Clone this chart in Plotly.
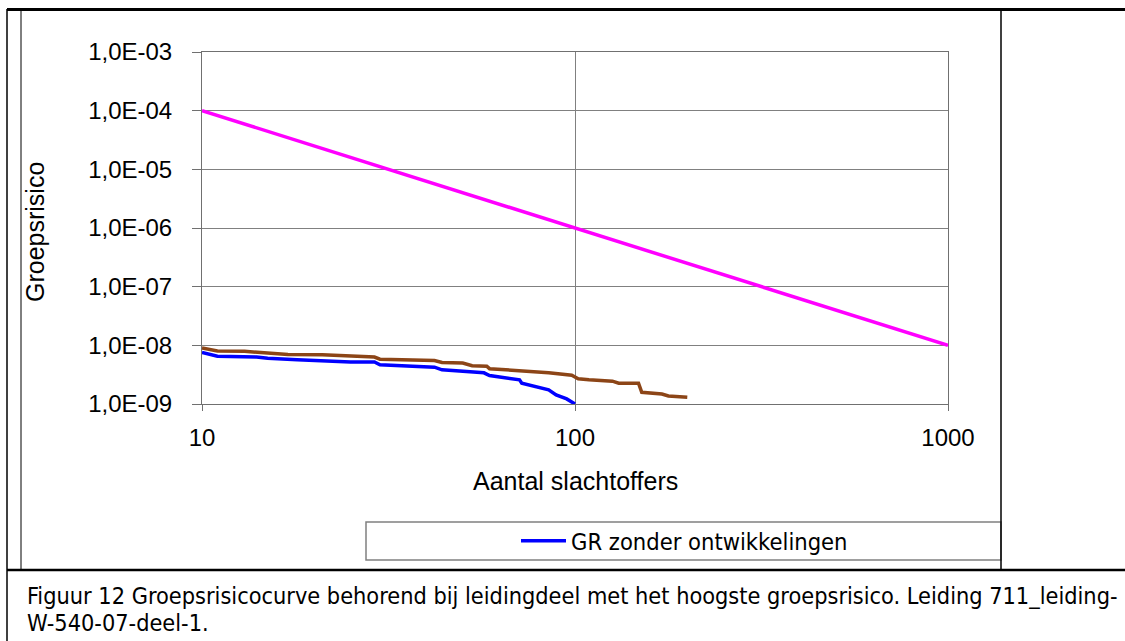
import plotly.graph_objects as go

W, H = 1125, 641

# ---- data ----
norm_n = [10, 1000]
norm_gr = [1e-4, 1e-8]

brown_n = [10, 11, 13, 15, 17, 21, 25, 29, 30, 42, 44, 50, 53, 58, 59, 67, 73, 85, 98,
           102, 109, 126, 131, 148, 151, 171, 178, 200]
brown_gr = [9.0e-9, 8.0e-9, 7.9e-9, 7.4e-9, 7.0e-9, 6.9e-9, 6.65e-9, 6.3e-9, 5.8e-9,
            5.5e-9, 5.1e-9, 5.0e-9, 4.5e-9, 4.4e-9, 4.0e-9, 3.8e-9, 3.7e-9, 3.4e-9, 3.1e-9,
            2.7e-9, 2.6e-9, 2.45e-9, 2.26e-9, 2.26e-9, 1.58e-9, 1.48e-9, 1.37e-9, 1.3e-9]

blue_n = [10, 11, 14, 15, 18, 25, 29, 30, 42, 44, 57, 59, 71, 72, 85, 89, 95, 100]
blue_gr = [7.6e-9, 6.5e-9, 6.3e-9, 6.0e-9, 5.7e-9, 5.2e-9, 5.2e-9, 4.65e-9, 4.25e-9,
           3.83e-9, 3.4e-9, 3.05e-9, 2.58e-9, 2.26e-9, 1.74e-9, 1.43e-9, 1.22e-9, 1.0e-9]

y_tickvals = [1e-9, 1e-8, 1e-7, 1e-6, 1e-5, 1e-4, 1e-3]
y_ticktext = ["1,0E-09", "1,0E-08", "1,0E-07", "1,0E-06", "1,0E-05", "1,0E-04", "1,0E-03"]
x_tickvals = [10, 100, 1000]
x_ticktext = ["10", "100", "1000"]

legend_name = "GR zonder ontwikkelingen"
x_title = "Aantal slachtoffers"
y_title = "Groepsrisico"
caption1 = "Figuur 12 Groepsrisicocurve behorend bij leidingdeel met het hoogste groepsrisico. Leiding 711_leiding-"
caption2 = "W-540-07-deel-1."


def xp(x):
    return x / W


def yp(y):
    return 1 - y / H


fig = go.Figure()
fig.add_trace(go.Scatter(x=norm_n, y=norm_gr, mode="lines",
                         line=dict(color="#FF00FF", width=3.5), showlegend=False))
fig.add_trace(go.Scatter(x=brown_n, y=brown_gr, mode="lines",
                         line=dict(color="#8C4517", width=3.5), showlegend=False))
fig.add_trace(go.Scatter(x=blue_n, y=blue_gr, mode="lines", name=legend_name,
                         line=dict(color="#0000FF", width=3.5), showlegend=True))

axis_font = dict(family="Liberation Sans, Arial", size=24, color="#000000")
cap_font_family = "DejaVu Sans Condensed, DejaVu Sans"

fig.update_layout(
    width=W, height=H,
    margin=dict(l=0, r=0, t=0, b=0, pad=0, autoexpand=False),
    paper_bgcolor="white", plot_bgcolor="white",
    xaxis=dict(type="log", domain=[xp(202), xp(948)], range=[1, 3],
               tickvals=x_tickvals, ticktext=x_ticktext, tickfont=axis_font,
               ticks="outside", ticklen=6, tickcolor="#707070",
               showline=True, linecolor="#707070", linewidth=1, mirror=True,
               showgrid=True, gridcolor="#808080", gridwidth=1, zeroline=False,
               ticklabelstandoff=6, automargin=False),
    yaxis=dict(type="log", domain=[yp(404), yp(52)], range=[-9, -3],
               tickvals=y_tickvals, ticktext=y_ticktext, tickfont=axis_font,
               ticks="outside", ticklen=9, tickcolor="#707070",
               showline=True, linecolor="#707070", linewidth=1, mirror=True,
               showgrid=True, gridcolor="#808080", gridwidth=1, zeroline=False,
               ticklabelstandoff=15, automargin=False),
    legend=dict(x=xp(516), y=yp(541), xanchor="left", yanchor="middle",
                bgcolor="rgba(0,0,0,0)", borderwidth=0, itemwidth=45,
                font=dict(family=cap_font_family, size=23.5, color="#000000")),
    showlegend=True,
)

shapes = [
    dict(type="line", x0=xp(7), x1=1, y0=yp(9.5), y1=yp(9.5), line=dict(color="#000", width=3)),
    dict(type="line", x0=xp(7), x1=xp(7), y0=yp(9), y1=0, line=dict(color="#000", width=1.5)),
    dict(type="line", x0=xp(21), x1=xp(21), y0=yp(9), y1=yp(570), line=dict(color="#000", width=1)),
    dict(type="line", x0=xp(1001), x1=xp(1001), y0=yp(9), y1=yp(570), line=dict(color="#000", width=1.5)),
    dict(type="line", x0=xp(7), x1=1, y0=yp(570), y1=yp(570), line=dict(color="#000", width=2.5)),
    dict(type="rect", x0=xp(366), x1=xp(1001), y0=yp(560), y1=yp(522),
         line=dict(color="#808080", width=1.5), layer="below"),
]
for s in shapes:
    s["xref"] = "paper"
    s["yref"] = "paper"
fig.update_layout(shapes=shapes)

ann = [
    dict(text=y_title, x=xp(35), y=yp(232), textangle=-90,
         font=dict(family="Liberation Sans, Arial", size=25, color="#000")),
    dict(text=x_title, x=xp(575), y=yp(481),
         font=dict(family="Liberation Sans, Arial", size=25, color="#000")),
    dict(text=caption1, x=xp(25), y=yp(595), xanchor="left",
         font=dict(family=cap_font_family, size=23.3, color="#000")),
    dict(text=caption2, x=xp(25), y=yp(622), xanchor="left",
         font=dict(family=cap_font_family, size=23.3, color="#000")),
]
for a in ann:
    a["xref"] = "paper"
    a["yref"] = "paper"
    a["showarrow"] = False
    a.setdefault("xanchor", "center")
    a["yanchor"] = "middle"
fig.update_layout(annotations=ann)

fig.write_html("out.html", config={"displayModeBar": False},
               post_script="document.body.style.margin='0px';")
